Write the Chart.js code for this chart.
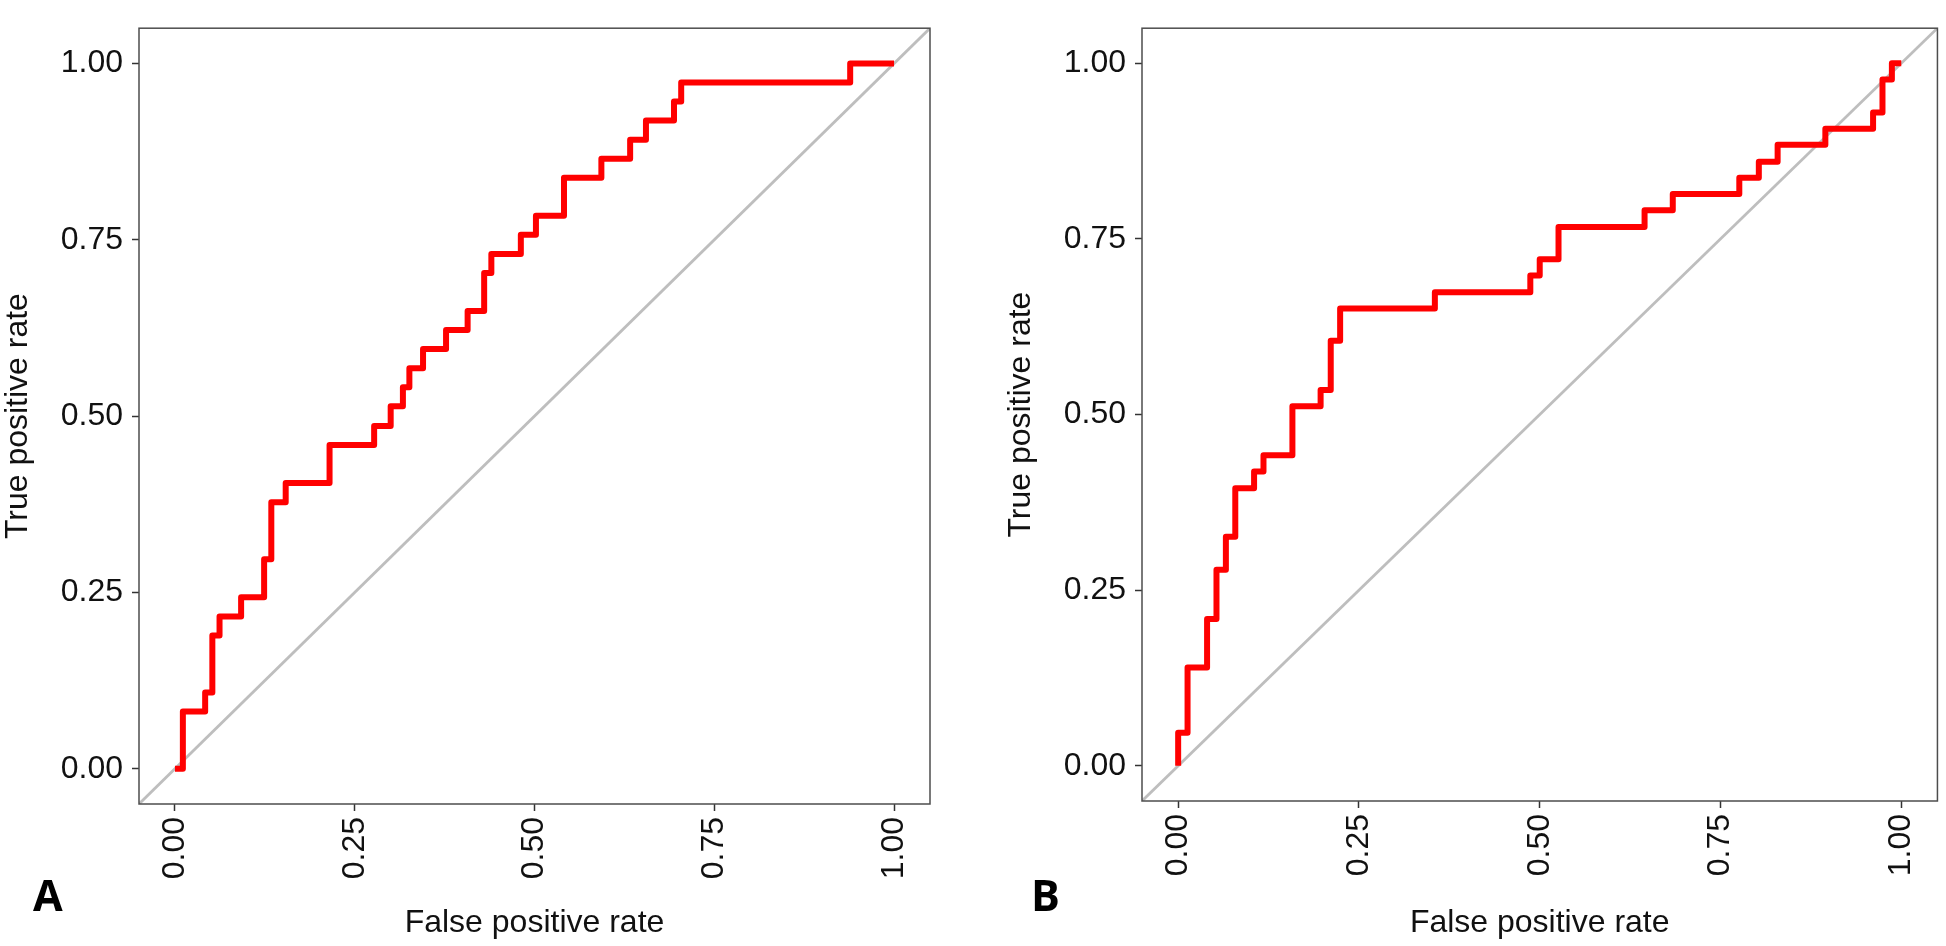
<!DOCTYPE html>
<html>
<head>
<meta charset="utf-8">
<script src="https://cdn.jsdelivr.net/npm/chart.js@4.4.1/dist/chart.umd.min.js"></script>
<style>
  html, body { margin: 0; padding: 0; background: #fff; }
  #wrap { position: relative; width: 1946px; height: 946px; overflow: hidden; }
  canvas { position: absolute; top: 0; }
  #chartA { left: 0; }
  #chartB { left: 973px; }
  .tag { position: absolute; font-family: "Open Sans", "DejaVu Sans", sans-serif; font-weight: 700; font-size: 43px; line-height: 43px; color: #000; }
</style>
</head>
<body>
<div id="wrap">
  <canvas id="chartA" width="973" height="946"></canvas>
  <canvas id="chartB" width="973" height="946"></canvas>
  <div class="tag" style="left:33px; top:873px;">A</div>
  <div class="tag" style="left:1031px; top:873px;">B</div>
</div>
<script>
// ROC points (false positive rate, true positive rate)
var fprA = [0, 0.011, 0.042, 0.052, 0.062, 0.092, 0.124, 0.134, 0.154, 0.215, 0.277, 0.300, 0.317, 0.326, 0.345, 0.377, 0.407, 0.430, 0.440, 0.481, 0.502, 0.541, 0.593, 0.633, 0.655, 0.694, 0.704, 0.939, 1.0];
var tprA = [0, 0.081, 0.108, 0.189, 0.216, 0.243, 0.297, 0.378, 0.405, 0.459, 0.486, 0.514, 0.541, 0.568, 0.595, 0.622, 0.649, 0.703, 0.730, 0.757, 0.784, 0.838, 0.865, 0.892, 0.919, 0.946, 0.973, 1.0, 1.0];

var fprB = [0, 0, 0.013, 0.040, 0.053, 0.066, 0.079, 0.105, 0.118, 0.158, 0.197, 0.211, 0.224, 0.355, 0.487, 0.500, 0.526, 0.645, 0.684, 0.776, 0.803, 0.829, 0.895, 0.961, 0.974, 0.987, 1.0];
var tprB = [0, 0.047, 0.140, 0.209, 0.279, 0.326, 0.395, 0.419, 0.442, 0.512, 0.535, 0.605, 0.651, 0.674, 0.698, 0.721, 0.767, 0.791, 0.814, 0.837, 0.860, 0.884, 0.907, 0.930, 0.977, 1.0, 1.0];

// reference diagonal (chance line), corner to corner
var diagX = [-0.05, 1.05];
var diagY = [-0.05, 1.05];

var tickValues = [0, 0.25, 0.5, 0.75, 1];
var axisMin = -0.05;
var axisMax = 1.05;

var xTitle = 'False positive rate';
var yTitle = 'True positive rate';

// panel border drawn on top, like ggplot theme_bw
var framePlugin = {
    id: 'frame',
    afterDatasetsDraw: function (chart) {
        var ctx = chart.ctx;
        var a = chart.chartArea;
        ctx.save();
        ctx.strokeStyle = '#4d4d4d';
        ctx.lineWidth = 1.5;
        ctx.strokeRect(a.left, a.top, a.right - a.left, a.bottom - a.top);
        ctx.restore();
    }
};

function toPoints(xs, ys) {
    return xs.map(function (x, i) { return { x: x, y: ys[i] }; });
}

function setTicks(scale) {
    scale.ticks = tickValues.map(function (v) { return { value: v }; });
}

function makeChart(id, fpr, tpr, box) {
    var ctx = document.getElementById(id);
    return new Chart(ctx, {
        type: 'line',
        data: {
            datasets: [{
                data: toPoints(fpr, tpr),
                borderColor: '#ff0000',
                borderWidth: 6,
                stepped: 'before',
                borderJoinStyle: 'round',
                pointRadius: 0,
                fill: false
            }, {
                data: toPoints(diagX, diagY),
                borderColor: '#bebebe',
                borderWidth: 2.8,
                pointRadius: 0,
                fill: false
            }]
        },
        options: {
            responsive: false,
            animation: false,
            layout: { padding: { top: box.top, right: box.right, left: 0, bottom: 0 } },
            plugins: { legend: { display: false }, tooltip: { enabled: false } },
            scales: {
                x: {
                    type: 'linear',
                    min: axisMin,
                    max: axisMax,
                    afterBuildTicks: setTicks,
                    afterFit: function (s) { s.height = box.xHeight; },
                    border: { display: false },
                    grid: { drawOnChartArea: false, drawTicks: true, tickLength: 7, tickColor: '#333', tickWidth: 1.5 },
                    ticks: {
                        autoSkip: false,
                        minRotation: 90,
                        maxRotation: 90,
                        padding: 6,
                        color: '#111',
                        font: { family: '"Liberation Sans", Arial, sans-serif', size: 32 },
                        callback: function (v) { return Number(v).toFixed(2); }
                    },
                    title: {
                        display: true,
                        text: xTitle,
                        color: '#111',
                        padding: { top: 0, bottom: 4 },
                        font: { family: '"Liberation Sans", Arial, sans-serif', size: 32 }
                    }
                },
                y: {
                    type: 'linear',
                    min: axisMin,
                    max: axisMax,
                    afterBuildTicks: setTicks,
                    afterFit: function (s) { s.width = box.yWidth; },
                    border: { display: false },
                    grid: { drawOnChartArea: false, drawTicks: true, tickLength: 7, tickColor: '#333', tickWidth: 1.5 },
                    ticks: {
                        autoSkip: false,
                        padding: 9,
                        color: '#111',
                        font: { family: '"Liberation Sans", Arial, sans-serif', size: 32 },
                        callback: function (v) { return Number(v).toFixed(2); }
                    },
                    title: {
                        display: true,
                        text: yTitle,
                        color: '#111',
                        padding: { top: box.yTitlePad, bottom: 0 },
                        font: { family: '"Liberation Sans", Arial, sans-serif', size: 32 }
                    }
                }
            }
        },
        plugins: [framePlugin]
    });
}

makeChart('chartA', fprA, tprA, { top: 13, right: 43, xHeight: 142, yWidth: 139, yTitlePad: -1 });
makeChart('chartB', fprB, tprB, { top: 5, right: 7, xHeight: 145, yWidth: 169, yTitlePad: 29 });
</script>
</body>
</html>
